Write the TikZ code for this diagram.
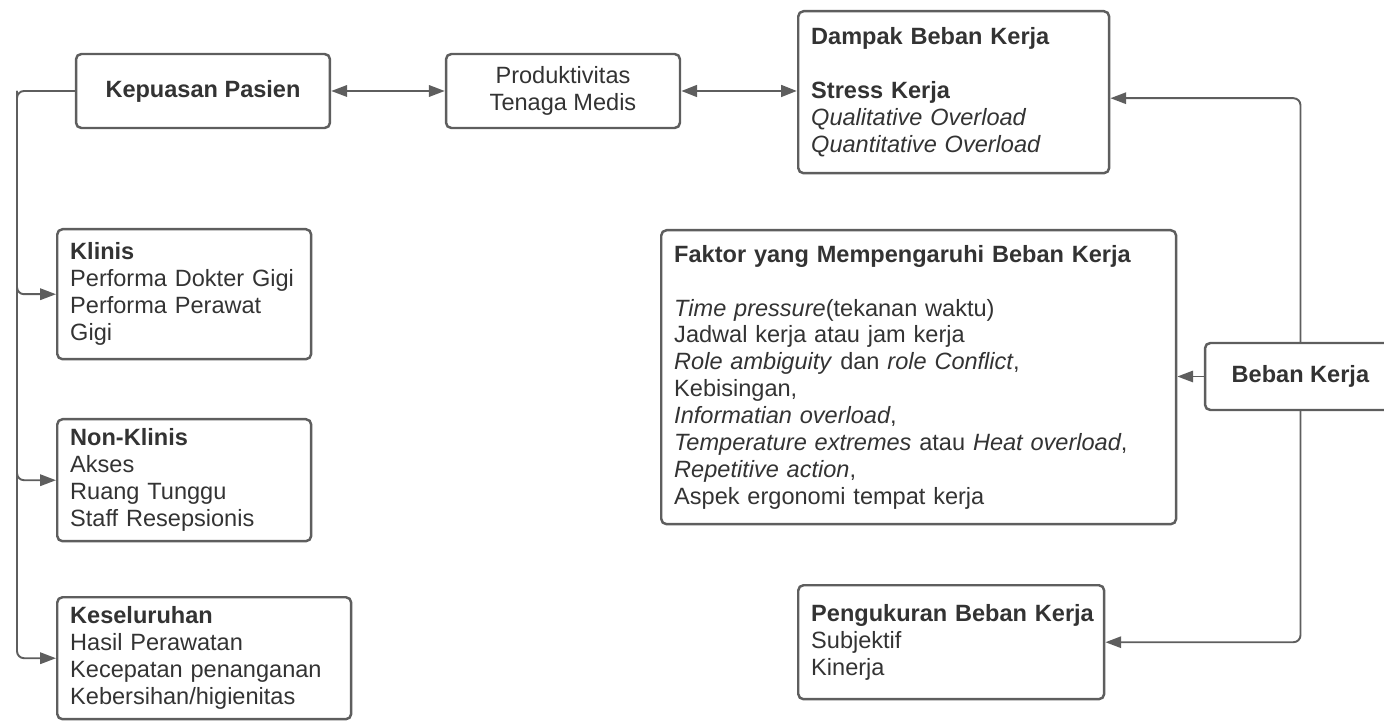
\documentclass[tikz,border=0pt]{standalone}
\usepackage{fontspec}
\setmainfont{Liberation Sans}
\usetikzlibrary{positioning, arrows.meta}
\definecolor{edgegray}{HTML}{5E5E5E}
\definecolor{inkgray}{HTML}{333333}

\begin{document}
\begin{tikzpicture}[x=0.02cm, y=-0.02cm,
  tag/.style={draw=edgegray, line width=1.4pt, rounded corners=3pt, text=inkgray,
    align=center, inner xsep=0.26cm, font=\fontsize{13.4pt}{15.3pt}\selectfont},
  card/.style={tag, anchor=north west, align=left},
  link/.style={draw=edgegray, line width=1.1pt, rounded corners=4pt,
    -{Triangle[length=9pt, width=6.5pt]}},
  twoway/.style={link, {Triangle[length=9pt, width=6.5pt]}-{Triangle[length=9pt, width=6.5pt]}}
]
  \useasboundingbox (0,0) rectangle (1384,726);

  % Top row
  \node[tag, minimum width=5.08cm, minimum height=1.48cm] (kepuasan) at (203,91) {\textbf{Kepuasan Pasien}};
  \node[tag, minimum width=4.68cm, minimum height=1.48cm] (produk) at (563,91) {Produktivitas\\Tenaga Medis};
  \node[card, text width=5.70cm, minimum height=3.24cm] (dampak) at (797,10)
    {\textbf{Dampak Beban Kerja}\\[\baselineskip]
     \textbf{Stress Kerja}\\
     \textit{Qualitative Overload}\\
     \textit{Quantitative Overload}};

  % Left column: aspek kepuasan
  \node[card, text width=4.56cm, minimum height=2.60cm] (klinis) at (56,228)
    {\textbf{Klinis}\\Performa Dokter Gigi\\Performa Perawat\\Gigi};
  \node[card, text width=4.56cm, minimum height=2.44cm] (nonklinis) at (56,418)
    {\textbf{Non-Klinis}\\Akses\\Ruang Tunggu\\Staff Resepsionis};
  \node[card, text width=5.36cm, minimum height=2.44cm] (kesel) at (56,596)
    {\textbf{Keseluruhan}\\Hasil Perawatan\\Kecepatan penanganan\\Kebersihan/higienitas};

  % Right side: beban kerja
  \node[card, text width=9.78cm, minimum height=5.88cm] (faktor) at (660,229)
    {\textbf{Faktor yang Mempengaruhi Beban Kerja}\\[\baselineskip]
     \textit{Time pressure}(tekanan waktu)\\
     Jadwal kerja atau jam kerja\\
     \textit{Role ambiguity} dan \textit{role Conflict},\\
     Kebisingan,\\
     \textit{Informatian overload},\\
     \textit{Temperature extremes} atau \textit{Heat overload},\\
     \textit{Repetitive action},\\
     Aspek ergonomi tempat kerja};
  \node[tag, minimum width=3.82cm, minimum height=1.34cm] (beban) at (1300.5,376.5) {\textbf{Beban Kerja}};
  \node[card, text width=5.60cm, minimum height=2.28cm] (ukur) at (797,584)
    {\mbox{\textbf{Pengukuran Beban Kerja}}\\Subjektif\\Kinerja};

  % Connectors
  \coordinate (trunk) at (17,91);
  \draw[link] (kepuasan.west) -- (trunk) |- (kesel.west);
  \draw[link] (trunk) |- (klinis.west);
  \draw[link] (trunk) |- (nonklinis.west);
  \draw[twoway] (kepuasan.east) -- (produk.west);
  \draw[twoway, line width=1.7pt] (produk.east) -- (dampak.west |- produk.east);
  \draw[link] (beban.north) |- ([yshift=-0.12cm]dampak.east);
  \draw[link] (beban.west) -- (faktor.east |- beban.west);
  \draw[link] (beban.south) |- (ukur.east);

\end{tikzpicture}
\end{document}
